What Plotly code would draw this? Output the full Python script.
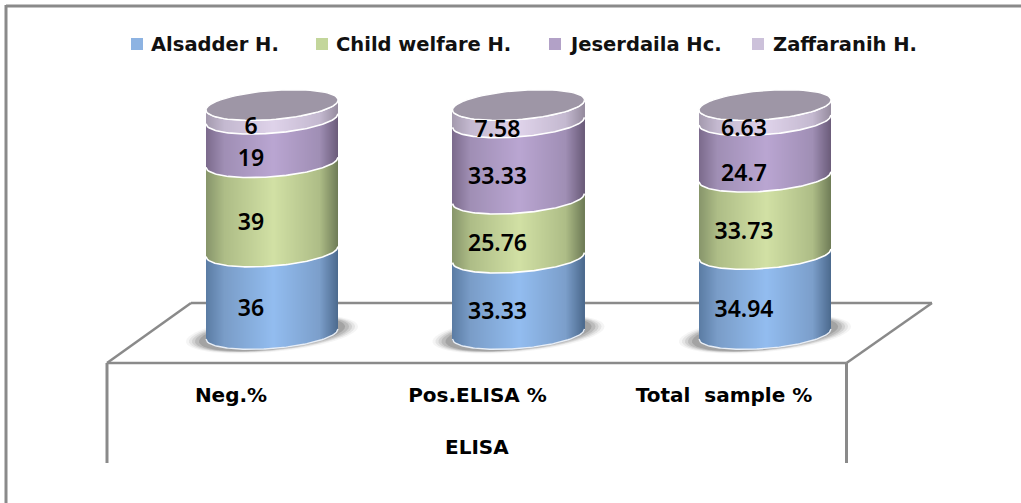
import numpy as np
import plotly.graph_objects as go

# ---- data ----
categories = ["Neg.%", "Pos.ELISA %", "Total  sample %"]
series_names = ["Alsadder H.", "Child welfare H.", "Jeserdaila Hc.", "Zaffaranih H."]
alsadder = [36, 33.33, 34.94]
child_welfare = [39, 25.76, 33.73]
jeserdaila = [19, 33.33, 24.7]
zaffaranih = [6, 7.58, 6.63]
series_values = [alsadder, child_welfare, jeserdaila, zaffaranih]

legend_colors = ["#8DB3E2", "#C3D69B", "#B2A1C7", "#CCC1DA"]
# cylinder shading: left edge, left shoulder, highlight, right shoulder, right edge
shades = [
    ["#5B7CA3", "#7A9DC8", "#93BDF0", "#7C9FCB", "#4C6A8E"],
    ["#87956B", "#AEBD87", "#D2E1A5", "#AEBD87", "#6F7C57"],
    ["#7B6B8C", "#A08FB5", "#BAA6D2", "#A08FB5", "#6B5C7A"],
    ["#A49AAE", "#C4B9D0", "#DFD3EA", "#C4B9D0", "#968C9F"],
]
cap_color = "#9E96A6"

# ---- geometry of the drawing in page pixels ----
W, H = 1021, 503
PX_FIRST, PX_STEP = 272.0, 246.5     # cylinder centres
PX_ZERO, PX_PER_UNIT = 334.0, 2.29   # baseline and vertical scale
HALF_W = 66.0                        # cylinder half width (px)
ELL_B, ELL_TILT = 14.5, 5.0          # ellipse depth and tilt (px)
AXIS_PX = 366.0                      # lower edge of the plotting area


def xd(px):
    return (px - PX_FIRST) / PX_STEP


def yd(px):
    return (PX_ZERO - px) / PX_PER_UNIT


def hex_rgb(c):
    return np.array([int(c[i:i + 2], 16) for i in (1, 3, 5)], float)


def shade_at(u, stops):
    pos = [-1.0, -0.72, 0.02, 0.72, 1.0]
    rgb = np.array([hex_rgb(s) for s in stops])
    return [
        "rgb(%d,%d,%d)" % tuple(np.interp(v, pos, rgb[:, ch]) for ch in range(3))
        for v in u
    ]


def front_curve(u):
    # how far below its level the front rim of a slice sits, in value units
    return (ELL_B * np.sqrt(np.clip(1 - u ** 2, 0, 1)) - ELL_TILT * u) / PX_PER_UNIT


def ellipse(k, level, a=HALF_W, b=ELL_B, tilt=ELL_TILT, n=80):
    t = np.linspace(0, 2 * np.pi, n)
    x = k + a * np.cos(t) / PX_STEP
    y = level - (b * np.sin(t) - tilt * np.cos(t)) / PX_PER_UNIT
    return x, y


fig = go.Figure()

# stacked slices: each cylinder is a run of 1 px wide bars so the shading varies across it
offsets = np.arange(-HALF_W + 0.5, HALF_W, 1.0)
u = offsets / HALF_W
strip_w = 1.0 / PX_STEP
totals = np.zeros(len(categories))
for name, values, stops in zip(series_names, series_values, shades):
    xs, bases, heights, colors = [], [], [], []
    strip_colors = shade_at(u, stops)
    for k, v in enumerate(values):
        xs.extend(k + offsets / PX_STEP)
        bases.extend(totals[k] - front_curve(u))
        heights.extend([v] * len(u))
        colors.extend(strip_colors)
    fig.add_trace(go.Bar(
        x=xs, y=heights, base=bases, width=strip_w,
        marker=dict(color=colors, line=dict(width=0)),
        hoverinfo="skip", showlegend=False,
    ))
    totals = totals + np.array(values)

# white rims between the slices, along the front of each level
rim_u = np.linspace(-1, 1, 90)
levels = np.zeros(len(categories))
for k in range(len(categories)):
    fig.add_trace(go.Scatter(
        x=k + rim_u * HALF_W / PX_STEP, y=0 - front_curve(rim_u),
        mode="lines", line=dict(color="#E8EEF6", width=1.4),
        hoverinfo="skip", showlegend=False,
    ))
for values in series_values:
    levels = levels + np.array(values)
    for k in range(len(categories)):
        fig.add_trace(go.Scatter(
            x=k + rim_u * HALF_W / PX_STEP, y=levels[k] - front_curve(rim_u),
            mode="lines", line=dict(color="white", width=1.6),
            hoverinfo="skip", showlegend=False,
        ))

# top caps
for k in range(len(categories)):
    cx, cy = ellipse(k, totals[k])
    fig.add_trace(go.Scatter(
        x=cx, y=cy, mode="lines", fill="toself",
        line=dict(color="white", width=1.4), fillcolor=cap_color,
        hoverinfo="skip", showlegend=False,
    ))

# value labels, sitting a little left of and below the middle of each slice
LABEL_DX, LABEL_DY = -21.0, 17.5
label_lift = {(2, 2): -9.0, (2, 0): -2.5, (3, 0): 1.0}  # nudges for the tight bands
cum = np.zeros(len(categories))
for s, values in enumerate(series_values):
    vals = np.array(values, float)
    lifts = np.array([label_lift.get((s, k), 0.0) for k in range(len(categories))])
    fig.add_trace(go.Scatter(
        x=[k + LABEL_DX / PX_STEP for k in range(len(categories))],
        y=cum + vals / 2 + (lifts - LABEL_DY) / PX_PER_UNIT,
        text=[str(v) for v in values], mode="text",
        textfont=dict(family="Noto Sans", size=23, color="black", weight=600),
        textposition="middle center", hoverinfo="skip", showlegend=False,
    ))
    cum = cum + vals

gray = "#8A8A8A"
LEGEND_Y = 44
swatch_px = [137, 322, 555, 758]
legend_text_px = [151, 336, 569, 773]
for name, c, sx in zip(series_names, legend_colors, swatch_px):
    fig.add_trace(go.Scatter(
        x=[xd(sx)], y=[yd(LEGEND_Y)], mode="markers", name=name,
        marker=dict(symbol="square", size=12, color=c),
        hoverinfo="skip", showlegend=False,
    ))

shapes = [
    # chart frame
    dict(type="line", xref="paper", yref="paper", x0=6 / W, x1=1, y0=1 - 6 / H, y1=1 - 6 / H,
         line=dict(color=gray, width=3)),
    dict(type="line", xref="paper", yref="paper", x0=6 / W, x1=6 / W, y0=0, y1=1 - 5 / H,
         line=dict(color=gray, width=3)),
    # drop lines under the floor
    dict(type="line", xref="paper", yref="paper", x0=107 / W, x1=107 / W,
         y0=1 - 463 / H, y1=1 - 363 / H, line=dict(color=gray, width=3)),
    dict(type="line", xref="paper", yref="paper", x0=846.5 / W, x1=846.5 / W,
         y0=1 - 463 / H, y1=1 - 363 / H, line=dict(color=gray, width=3)),
]
# floor outline, drawn behind the cylinders
floor_pts = [(191, 303), (932, 303), (846.5, 363), (107, 363), (191, 303)]
for (x0, y0), (x1, y1) in zip(floor_pts[:-1], floor_pts[1:]):
    shapes.append(dict(type="line", xref="x", yref="y", layer="below",
                       x0=xd(x0), x1=xd(x1), y0=yd(y0), y1=yd(y1),
                       line=dict(color=gray, width=2.5)))
# soft floor shadows under each cylinder
for k in range(len(categories)):
    for a, b, alpha in [(86, 18, 0.06), (83, 17, 0.10), (80, 16.5, 0.14), (77, 16, 0.18), (73, 15.5, 0.25)]:
        sx, sy = ellipse(k, 0, a=a, b=b, tilt=7.5, n=60)
        path = "M " + " L ".join("%.5f,%.5f" % p for p in zip(sx, sy)) + " Z"
        shapes.append(dict(type="path", xref="x", yref="y", layer="below", path=path,
                           fillcolor="rgba(90,90,90,%.2f)" % alpha, line=dict(width=0)))

label_font = dict(family="DejaVu Sans", size=20, color="black", weight=600)
legend_font = dict(family="DejaVu Sans", size=19.5, color="#111111", weight=600)
AXIS_LABEL_SHIFT = -41.0 / PX_STEP

annotations = [
    dict(text=name, xref="paper", yref="paper", x=tx / W, y=1 - LEGEND_Y / H,
         xanchor="left", yanchor="middle", showarrow=False, font=legend_font, xshift=-2)
    for name, tx in zip(series_names, legend_text_px)
]
annotations.append(dict(text="ELISA", xref="paper", yref="paper", x=477 / W, y=1 - 447 / H,
                        xanchor="center", yanchor="middle", showarrow=False, font=label_font))

fig.update_layout(
    width=W, height=H, autosize=False,
    margin=dict(l=0, r=0, t=0, b=0),
    paper_bgcolor="white", plot_bgcolor="white",
    barmode="overlay", shapes=shapes, annotations=annotations,
    showlegend=False,
    xaxis=dict(
        range=[xd(0), xd(W)], showgrid=False, zeroline=False, showline=False,
        tickmode="array",
        tickvals=[k + AXIS_LABEL_SHIFT for k in range(len(categories))],
        ticktext=categories, tickfont=label_font,
        ticks="outside", ticklen=11, tickcolor="rgba(0,0,0,0)",
        automargin=False,
    ),
    yaxis=dict(
        domain=[1 - AXIS_PX / H, 1], range=[yd(AXIS_PX), yd(0)],
        visible=False,
    ),
)

fig.write_html("out.html")
